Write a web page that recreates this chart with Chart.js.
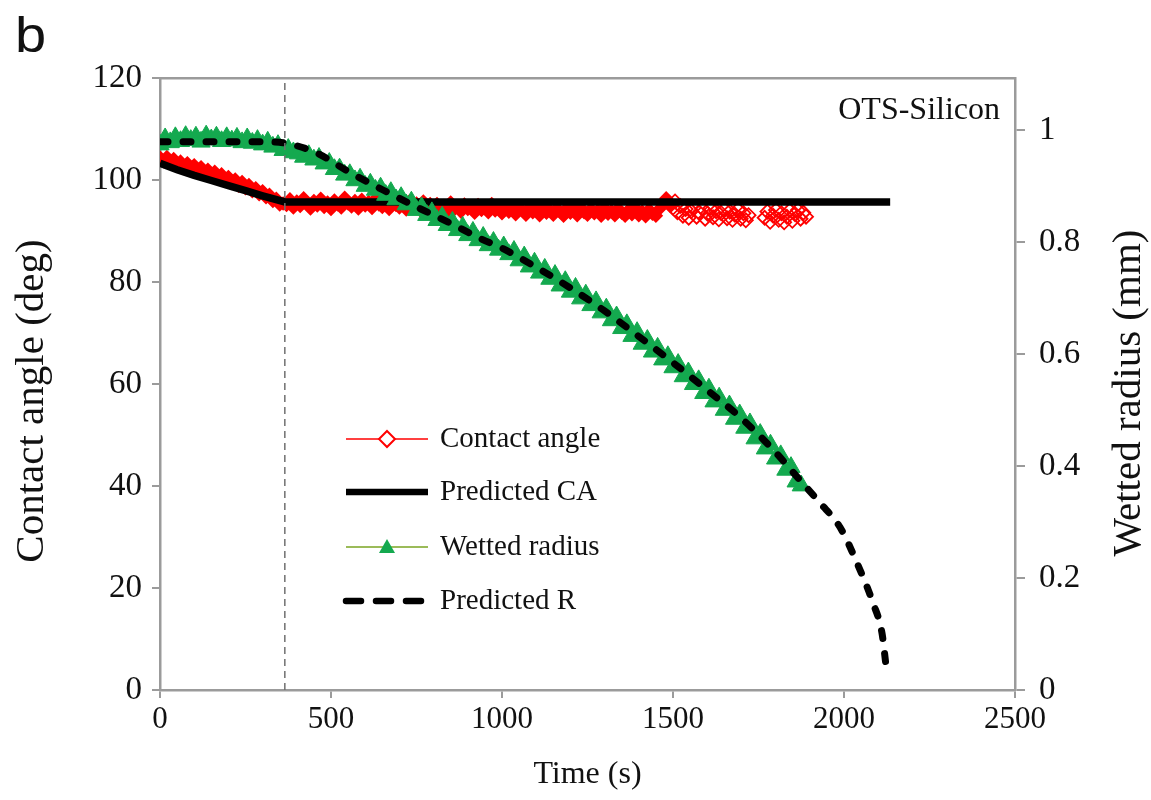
<!DOCTYPE html>
<html>
<head>
<meta charset="utf-8">
<script src="https://cdn.jsdelivr.net/npm/chart.js@4.4.1/dist/chart.umd.min.js"></script>
<style>
  html, body { margin: 0; padding: 0; background: #ffffff; }
  #wrap { width: 1151px; height: 800px; }
  canvas { display: block; }
</style>
</head>
<body>
<div id="wrap"><canvas id="chart" width="1151" height="800"></canvas></div>
<script>
// ---- measured contact angle (deg) vs time (s) ----
const caTime = [
  0,10,20,30,40,50,60,70,80,90,100,110,120,130,140,150,160,170,180,190,200,210,220,230,240,250,260,270,280,290,300,310,320,330,340,350,360,
  370,380,390,400,410,420,430,440,450,460,470,480,490,500,510,520,530,540,550,560,570,580,590,600,610,620,630,640,650,660,670,680,690,700,
  710,720,730,740,750,760,770,780,790,800,810,820,830,840,850,860,870,880,890,900,910,920,930,940,950,960,970,980,990,1000,
  1010,1020,1030,1040,1050,1060,1070,1080,1090,1100,1110,1120,1130,1140,1150,1160,1170,1180,1190,1200,1210,1220,1230,1240,1250,
  1260,1270,1280,1290,1300,1310,1320,1330,1340,1350,1360,1370,1380,1390,1400,1410,1420,1430,1440,1450,1460,1470,1480,1490,
  1500,1506,1513,1521,1529,1537,1546,1553,1561,1569,1577,1586,1594,1601,1609,1617,1626,1634,1641,1650,1658,1666,1674,1681,1690,1698,1706,1713,1721,
  1768,1776,1784,1793,1801,1809,1817,1825,1833,1841,1849,1857,1865,1873,1881,1889
];
const caDeg = [
  104.4,103.7,104.5,103.6,104.1,102.9,103.6,102.7,103.3,102.2,102.9,101.8,102.5,101.4,102.0,100.9,101.6,100.5,101.1,100.0,100.6,99.4,100.1,98.9,99.6,98.4,99.0,97.8,98.4,97.2,97.8,96.6,97.1,95.9,96.3,95.2,95.4,
  95.1,96.2,94.6,95.8,94.9,96.4,95.3,94.4,95.9,95.0,96.3,94.7,95.6,94.3,96.0,95.2,94.6,96.5,95.4,94.8,95.9,94.4,96.1,95.0,95.7,94.5,96.3,95.2,94.7,95.8,94.3,96.0,95.1,94.6,
  95.7,94.2,95.9,94.8,95.4,94.1,95.8,94.9,95.3,94.0,95.3,94.4,94.9,93.9,95.6,94.2,94.7,93.8,95.2,94.3,94.8,93.6,95.1,94.1,94.7,93.7,95.3,94.0,94.5,93.5,
  94.7,93.8,94.3,93.3,94.6,94.0,93.2,94.5,93.7,94.2,93.1,94.7,93.6,94.1,93.2,94.4,93.8,93.0,94.5,93.6,94.2,93.1,94.6,93.7,93.2,
  94.3,93.5,94.0,93.0,94.5,93.4,93.9,93.1,94.4,93.6,93.0,94.1,93.3,94.5,93.1,93.8,92.9,94.2,93.4,93.0,94.3,95.4,96.4,95.0,
  94.6,95.8,93.7,94.9,93.0,94.3,92.6,93.9,94.6,92.8,93.6,94.4,92.4,93.4,94.5,92.7,93.9,92.3,93.5,94.3,92.5,93.8,92.2,93.2,94.2,92.4,93.5,92.1,93.1,
  92.6,93.8,91.8,93.0,94.1,92.2,93.5,91.7,92.8,94.0,92.0,93.3,94.1,92.4,93.6,92.8
];

// ---- predicted contact angle (deg) ----
const caModelTime = [0, 50, 100, 150, 200, 250, 300, 365, 2135];
const caModelDeg  = [103.3, 102.0, 100.9, 99.9, 98.9, 97.9, 96.9, 95.7, 95.7];

// ---- measured wetted radius (mm) vs time (s) ----
const rTime = [
  0,15,30,45,60,75,90,105,120,135,150,165,180,195,210,225,240,255,270,285,300,315,330,345,360,
  375,390,405,420,435,450,465,480,495,510,525,540,555,570,585,600,615,630,645,660,675,690,705,720,735,750,
  765,780,795,810,825,840,855,870,885,900,915,930,945,960,975,990,1005,1020,1035,1050,1065,1080,1095,1110,1125,
  1140,1155,1170,1185,1200,1215,1230,1245,1260,1275,1290,1305,1320,1335,1350,1365,1380,1395,1410,1425,1440,1455,
  1470,1485,1500,1515,1530,1545,1560,1575,1590,1605,1620,1635,1650,1665,1680,1695,1710,1725,1740,1755,1770,1785,
  1800,1815,1830,1845,1860,1875
];
const rMm = [
  0.974,0.985,0.978,0.987,0.980,0.989,0.982,0.988,0.979,0.990,0.983,0.988,0.980,0.987,0.981,0.986,0.978,0.985,0.977,0.982,0.974,0.979,0.970,0.973,0.964,
  0.966,0.960,0.958,0.952,0.955,0.947,0.950,0.940,0.941,0.930,0.931,0.920,0.921,0.910,0.913,0.900,0.904,0.893,0.897,0.884,0.889,0.876,0.880,0.867,0.872,0.857,
  0.862,0.848,0.853,0.839,0.845,0.830,0.836,0.821,0.827,0.812,0.818,0.803,0.809,0.794,0.800,0.786,0.792,0.778,0.784,0.767,0.774,0.756,0.763,0.745,0.752,
  0.734,0.741,0.722,0.730,0.711,0.718,0.699,0.706,0.687,0.694,0.674,0.681,0.660,0.667,0.646,0.653,0.632,0.639,0.618,0.625,0.604,0.611,
  0.590,0.596,0.576,0.582,0.560,0.567,0.546,0.553,0.530,0.538,0.515,0.522,0.500,0.508,0.484,0.492,0.468,0.476,0.449,0.457,0.431,0.438,
  0.413,0.419,0.393,0.398,0.372,0.365
];

// ---- predicted wetted radius (mm) ----
const rModelTime = [0, 100, 200, 300, 365, 400, 459, 556, 652, 751, 848, 945, 994, 1100, 1200, 1300, 1403, 1491, 1599, 1696, 1793, 1871, 1930, 1988, 2038, 2085, 2111, 2122];
const rModelMm   = [0.979, 0.979, 0.979, 0.979, 0.977, 0.972, 0.959, 0.924, 0.893, 0.8625, 0.834, 0.804, 0.791, 0.755, 0.718, 0.677, 0.630, 0.589, 0.536, 0.4875, 0.429, 0.375, 0.334, 0.291, 0.227, 0.155, 0.102, 0.048];

// ---- time at which the contact line starts to recede ----
const pinningEndTime = 365;

// ---- axes ----
const timeTicksStep = 500;
const angleTicksStep = 20;
const radiusTicks = [0, 0.2, 0.4, 0.6, 0.8, 1];

const SERIF = '"Liberation Serif", "Times New Roman", serif';
const SANS = '"Liberation Sans", Arial, sans-serif';
const AXIS_GREY = '#9b9b9b';
const TEXT = '#111111';
const RED = '#ff0000';
const GREEN = '#14a94f';
const OLIVE = '#9bbb59';

const pairs = (xs, ys) => xs.map((x, i) => ({ x, y: ys[i] }));

// Annotations: panel letter, sample label, legend and the two vertical axis titles
const annotations = {
  id: 'annotations',
  afterDraw(chart) {
    const ctx = chart.ctx;
    ctx.save();
    ctx.fillStyle = TEXT;

    ctx.save();
    ctx.translate(15, 52);
    ctx.scale(1.12, 1);
    ctx.font = '50px ' + SANS;
    ctx.textAlign = 'left';
    ctx.textBaseline = 'alphabetic';
    ctx.fillText('b', 0, 0);
    ctx.restore();

    ctx.font = '32px ' + SERIF;
    ctx.textAlign = 'right';
    ctx.textBaseline = 'middle';
    ctx.fillText('OTS-Silicon', 1000, 111);

    const vTitle = (text, x, y) => {
      ctx.save();
      ctx.translate(x, y);
      ctx.rotate(-Math.PI / 2);
      ctx.font = '41px ' + SERIF;
      ctx.textAlign = 'center';
      ctx.textBaseline = 'middle';
      ctx.fillText(text, 0, 0);
      ctx.restore();
    };
    vTitle('Contact angle (deg)', 32, 401);
    vTitle('Wetted radius (mm)', 1129, 393);

    // legend
    const x0 = 346, x1 = 428, xm = (x0 + x1) / 2, tx = 440;
    const rows = [439, 492, 547, 601];
    const line = (y, color, w, dash) => {
      ctx.beginPath();
      ctx.setLineDash(dash || []);
      ctx.lineCap = dash ? 'round' : 'butt';
      ctx.strokeStyle = color;
      ctx.lineWidth = w;
      ctx.moveTo(x0, y);
      ctx.lineTo(x1, y);
      ctx.stroke();
      ctx.setLineDash([]);
    };
    line(rows[0], RED, 1.6);
    ctx.beginPath();
    ctx.moveTo(xm, rows[0] - 8); ctx.lineTo(xm + 8, rows[0]); ctx.lineTo(xm, rows[0] + 8); ctx.lineTo(xm - 8, rows[0]); ctx.closePath();
    ctx.fillStyle = '#ffffff'; ctx.fill();
    ctx.strokeStyle = RED; ctx.lineWidth = 2; ctx.stroke();

    line(rows[1], '#000000', 6.5);

    line(rows[2], OLIVE, 2);
    ctx.beginPath();
    ctx.moveTo(xm, rows[2] - 8); ctx.lineTo(xm + 8, rows[2] + 6); ctx.lineTo(xm - 8, rows[2] + 6); ctx.closePath();
    ctx.fillStyle = GREEN; ctx.fill();

    line(rows[3], '#000000', 6.5, [15, 15]);

    ctx.fillStyle = TEXT;
    ctx.font = '29px ' + SERIF;
    ctx.textAlign = 'left';
    ctx.textBaseline = 'middle';
    ['Contact angle', 'Predicted CA', 'Wetted radius', 'Predicted R'].forEach((t, i) => ctx.fillText(t, tx, rows[i]));
    ctx.restore();
  }
};

new Chart(document.getElementById('chart'), {
  type: 'scatter',
  data: {
    datasets: [
      {
        label: 'Contact angle',
        data: pairs(caTime, caDeg),
        yAxisID: 'y',
        showLine: false,
        pointStyle: 'rectRot',
        pointRadius: c => (c.raw && c.raw.x < 1495 ? 6 : 7),
        pointBorderWidth: 1.8,
        pointBorderColor: RED,
        // closely spaced samples merge into a solid band; the sparse tail stays hollow
        pointBackgroundColor: c => (c.raw && c.raw.x < 1495 ? RED : 'rgba(255,0,0,0)'),
        order: 5
      },
      {
        label: 'Predicted CA',
        data: pairs(caModelTime, caModelDeg),
        yAxisID: 'y',
        showLine: true,
        borderColor: '#000000',
        borderWidth: 7.5,
        tension: 0,
        pointRadius: 0,
        order: 4
      },
      {
        label: 'Wetted radius',
        data: pairs(rTime, rMm),
        yAxisID: 'y2',
        showLine: false,
        pointStyle: 'triangle',
        pointRadius: 10.5,
        pointBorderWidth: 1,
        pointBorderColor: GREEN,
        pointBackgroundColor: GREEN,
        order: 3
      },
      {
        label: 'Predicted R',
        data: pairs(rModelTime, rModelMm),
        yAxisID: 'y2',
        showLine: true,
        borderColor: '#000000',
        borderWidth: 7,
        borderDash: [8, 15],
        borderCapStyle: 'round',
        cubicInterpolationMode: 'monotone',
        pointRadius: 0,
        order: 2
      },
      {
        label: 'onset',
        data: [{ x: pinningEndTime, y: 0 }, { x: pinningEndTime, y: 120 }],
        yAxisID: 'y',
        showLine: true,
        borderColor: '#707070',
        borderWidth: 1.5,
        borderDash: [7, 5],
        pointRadius: 0,
        order: 1
      }
    ]
  },
  options: {
    responsive: false,
    animation: false,
    events: [],
    layout: { padding: { top: 78, left: 0, right: 0, bottom: 0 } },
    plugins: { legend: { display: false }, tooltip: { enabled: false } },
    scales: {
      x: {
        type: 'linear', position: 'bottom', min: 0, max: 2500,
        ticks: { stepSize: timeTicksStep, font: { family: SERIF, size: 31 }, color: TEXT, padding: 3, callback: v => String(v) },
        grid: { drawOnChartArea: false, drawTicks: true, tickLength: 8, color: AXIS_GREY, lineWidth: 2 },
        border: { display: true, color: AXIS_GREY, width: 2.5 },
        title: { display: true, text: 'Time (s)', font: { family: SERIF, size: 32 }, color: TEXT, padding: { top: 0, bottom: 6 } },
        afterFit(s) { s.height = 110; }
      },
      xTop: {
        type: 'linear', position: 'top', min: 0, max: 2500,
        ticks: { display: false },
        grid: { drawOnChartArea: false, drawTicks: false },
        border: { display: true, color: AXIS_GREY, width: 2.5 },
        afterFit(s) { s.height = 0; }
      },
      y: {
        position: 'left', min: 0, max: 120,
        ticks: { stepSize: angleTicksStep, font: { family: SERIF, size: 33 }, color: TEXT, padding: 10 },
        grid: { drawOnChartArea: false, drawTicks: true, tickLength: 8, color: AXIS_GREY, lineWidth: 2 },
        border: { display: true, color: AXIS_GREY, width: 2.5 },
        afterFit(s) { s.width = 160; }
      },
      y2: {
        position: 'right', min: 0, max: 1.093,
        afterBuildTicks(s) { s.ticks = radiusTicks.map(v => ({ value: v })); },
        ticks: { font: { family: SERIF, size: 33 }, color: TEXT, padding: 14, callback: v => String(v) },
        grid: { drawOnChartArea: false, drawTicks: true, tickLength: 10, color: AXIS_GREY, lineWidth: 2 },
        border: { display: true, color: AXIS_GREY, width: 2.5 },
        afterFit(s) { s.width = 136; }
      }
    }
  },
  plugins: [annotations]
});
</script>
</body>
</html>
